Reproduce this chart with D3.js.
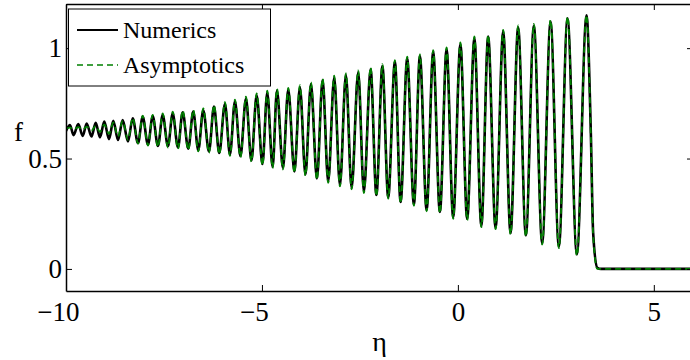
<!DOCTYPE html>
<html>
<head>
<meta charset="utf-8">
<script src="https://cdn.jsdelivr.net/npm/d3@7"></script>
<style>
  body { margin: 0; background: #fff; }
  svg { display: block; }
  svg text { font-family: "Liberation Serif", "Times New Roman", Tinos, "DejaVu Serif", serif; fill: #000; }
  .axis path, .axis line { stroke: #000; }
  .axis text { font-size: 27px; }
</style>
</head>
<body>
<div id="chart"></div>
<script>
// eta positions of the turning points
const eta = [
  -10.000, -9.898, -9.809, -9.686, -9.574, -9.472, -9.349, -9.242, -9.133, -9.023,
  -8.903, -8.793, -8.673, -8.554, -8.418, -8.298, -8.163, -8.043, -7.908, -7.788,
  -7.653, -7.533, -7.398, -7.278, -7.143, -7.023, -6.880, -6.753, -6.625, -6.497,
  -6.352, -6.224, -6.089, -5.944, -5.816, -5.689, -5.548, -5.408, -5.268, -5.135,
  -4.987, -4.865, -4.727, -4.617, -4.464, -4.329, -4.171, -4.031, -3.890, -3.750,
  -3.597, -3.452, -3.309, -3.156, -3.010, -2.857, -2.712, -2.543, -2.398, -2.227,
  -2.079, -1.926, -1.778, -1.607, -1.462, -1.293, -1.122, -0.969, -0.798, -0.630,
  -0.459, -0.288, -0.120, 0.064, 0.237, 0.421, 0.599, 0.773, 0.962, 1.156,
  1.344, 1.538, 1.735, 1.939, 2.151, 2.365, 2.577, 2.798, 3.036, 3.283,
  3.393, 3.452, 3.560, 3.650, 6.000
];

const fNumerics = [
  0.625, 0.652, 0.606, 0.656, 0.602, 0.659, 0.600, 0.662, 0.596, 0.667,
  0.588, 0.671, 0.584, 0.674, 0.577, 0.682, 0.570, 0.689, 0.563, 0.692,
  0.557, 0.697, 0.556, 0.704, 0.550, 0.710, 0.545, 0.713, 0.538, 0.719,
  0.532, 0.735, 0.525, 0.747, 0.518, 0.759, 0.511, 0.772, 0.491, 0.787,
  0.475, 0.799, 0.462, 0.808, 0.457, 0.812, 0.441, 0.824, 0.428, 0.837,
  0.410, 0.855, 0.396, 0.867, 0.380, 0.878, 0.367, 0.891, 0.350, 0.905,
  0.335, 0.919, 0.324, 0.938, 0.303, 0.953, 0.292, 0.964, 0.267, 0.983,
  0.258, 0.995, 0.233, 1.018, 0.226, 1.045, 0.195, 1.052, 0.186, 1.075,
  0.162, 1.095, 0.152, 1.102, 0.116, 1.121, 0.100, 1.135, 0.066, 1.149,
  0.615, 0.163, 0.005, 0.000, 0.000
];

const fAsymptotics = [
  0.636, 0.640, 0.632, 0.642, 0.630, 0.645, 0.627, 0.648, 0.621, 0.654,
  0.612, 0.662, 0.600, 0.670, 0.585, 0.684, 0.568, 0.694, 0.559, 0.698,
  0.552, 0.704, 0.550, 0.712, 0.544, 0.718, 0.539, 0.721, 0.532, 0.727,
  0.526, 0.743, 0.519, 0.755, 0.512, 0.767, 0.505, 0.780, 0.485, 0.795,
  0.469, 0.807, 0.456, 0.816, 0.451, 0.820, 0.435, 0.832, 0.422, 0.845,
  0.404, 0.863, 0.390, 0.875, 0.374, 0.886, 0.361, 0.899, 0.344, 0.913,
  0.329, 0.927, 0.318, 0.946, 0.297, 0.961, 0.286, 0.972, 0.261, 0.991,
  0.252, 1.003, 0.227, 1.026, 0.220, 1.053, 0.189, 1.060, 0.180, 1.083,
  0.156, 1.103, 0.146, 1.110, 0.110, 1.129, 0.094, 1.143, 0.060, 1.150,
  0.600, 0.150, 0.000, 0.000, 0.000
];

const xTicks = [-10, -5, 0, 5];
const yTicks = [0, 0.5, 1];
const seriesNames = ["Numerics", "Asymptotics"];
const seriesColors = ["#000000", "#008000"];

const width = 690;
const height = 360;
const margin = { top: 4, right: -3, bottom: 69, left: 66 };
const w = width - margin.left - margin.right;
const h = height - margin.top - margin.bottom;

const svg = d3.select("#chart").append("svg").attr("width", width).attr("height", height);
const g = svg.append("g").attr("transform", "translate(" + margin.left + "," + margin.top + ")");

const x = d3.scaleLinear().domain([-10, 6]).range([0, w]);
const y = d3.scaleLinear().domain([-0.1, 1.2]).range([h, 0]);

g.append("clipPath").attr("id", "clip").append("rect").attr("width", w).attr("height", h);

const numData = eta.map((e, i) => ({ eta: e, f: fNumerics[i] }));
const asyData = eta.map((e, i) => ({ eta: e, f: fAsymptotics[i] }));

const line = d3.line().x(d => x(d.eta)).y(d => y(d.f)).curve(d3.curveMonotoneX);

const plot = g.append("g").attr("clip-path", "url(#clip)");
plot.append("path").datum(numData)
    .attr("fill", "none").attr("stroke", seriesColors[0]).attr("stroke-width", 2.6)
    .attr("d", line);
plot.append("path").datum(asyData)
    .attr("fill", "none").attr("stroke", seriesColors[1]).attr("stroke-width", 1.8)
    .attr("stroke-dasharray", "6,4")
    .attr("d", line);

const fmt = d => (d < 0 ? "\u2212" + Math.abs(d) : String(d));

// axes, ticks pointing inward like matlab
const xAxis = g.append("g").attr("class", "axis").attr("transform", "translate(0," + h + ")")
    .call(d3.axisBottom(x).tickValues(xTicks).tickFormat(fmt).tickSizeInner(-6).tickSizeOuter(0).tickPadding(11));
// matlab centres the digits on the tick, the minus sign hangs to the left
xAxis.selectAll("text").attr("dx", d => (d < 0 ? "-0.3em" : null));
g.append("g").attr("class", "axis")
    .call(d3.axisTop(x).tickValues(xTicks).tickFormat("").tickSizeInner(-6).tickSizeOuter(0));
g.append("g").attr("class", "axis")
    .call(d3.axisLeft(y).tickValues(yTicks).tickFormat(fmt).tickSizeInner(-6).tickSizeOuter(0).tickPadding(4));
g.append("g").attr("class", "axis").attr("transform", "translate(" + w + ",0)")
    .call(d3.axisRight(y).tickValues(yTicks).tickFormat("").tickSizeInner(-6).tickSizeOuter(0));
g.selectAll(".axis").attr("font-family", null);
g.selectAll(".axis path").attr("stroke-width", 1.5);

// axis labels
svg.append("text").attr("x", margin.left + x(-2)).attr("y", 351)
    .attr("text-anchor", "middle").attr("font-size", 28).text("\u03b7");
svg.append("text").attr("x", 14).attr("y", 141)
    .attr("font-size", 27).text("f");

// legend
const leg = svg.append("g");
leg.append("rect").attr("x", 68.5).attr("y", 9).attr("width", 202).attr("height", 77)
    .attr("fill", "#fff").attr("stroke", "#000").attr("stroke-width", 1);
seriesNames.forEach((name, i) => {
    const ly = 30 + i * 35;
    leg.append("line").attr("x1", 77).attr("x2", 118).attr("y1", ly).attr("y2", ly)
        .attr("stroke", seriesColors[i]).attr("stroke-width", i === 0 ? 2.2 : 1.6)
        .attr("stroke-dasharray", i === 0 ? null : "6,4");
    leg.append("text").attr("x", 123).attr("y", ly + 8).attr("font-size", 24).text(name);
});
</script>
</body>
</html>
